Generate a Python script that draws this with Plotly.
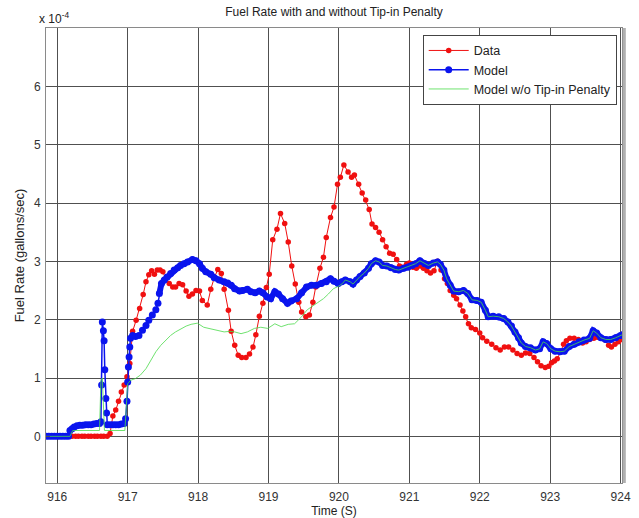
import plotly.graph_objects as go

# ---------------- data (fuel rate in units of 1e-4 gallons/sec) ----------------
data_t = [915.85, 915.90, 915.94, 915.99, 916.03, 916.08, 916.12, 916.17, 916.21, 916.26,
          916.30, 916.35, 916.39, 916.44, 916.48, 916.53, 916.57, 916.62, 916.66, 916.71,
          916.75, 916.79, 916.83, 916.87, 916.91, 916.95, 916.99, 917.03, 917.07, 917.12,
          917.17, 917.22, 917.26, 917.30, 917.34, 917.38, 917.42, 917.46, 917.50, 917.54,
          917.59, 917.64, 917.68, 917.73, 917.78, 917.83, 917.87, 917.92, 917.97, 918.02,
          918.06, 918.13, 918.18, 918.23, 918.28, 918.33, 918.37, 918.43, 918.47, 918.52,
          918.57, 918.62, 918.68, 918.73, 918.78, 918.82, 918.87, 918.92, 918.97, 919.01,
          919.06, 919.12, 919.17, 919.23, 919.28, 919.33, 919.38, 919.43, 919.47, 919.53,
          919.58, 919.63, 919.67, 919.73, 919.78, 919.82, 919.88, 919.93, 919.98, 920.02,
          920.07, 920.13, 920.18, 920.22, 920.28, 920.33, 920.38, 920.43, 920.47, 920.52,
          920.57, 920.62, 920.67, 920.72, 920.77, 920.82, 920.86, 920.91, 920.96, 921.00,
          921.05, 921.10, 921.15, 921.20, 921.25, 921.30, 921.35, 921.40, 921.45, 921.50,
          921.54, 921.58, 921.63, 921.67, 921.72, 921.76, 921.80, 921.84, 921.88, 921.94,
          922.00, 922.04, 922.10, 922.17, 922.23, 922.29, 922.35, 922.41, 922.47, 922.53,
          922.59, 922.65, 922.71, 922.77, 922.82, 922.87, 922.93, 922.98, 923.02, 923.06,
          923.10, 923.15, 923.19, 923.23, 923.28, 923.34, 923.40, 923.46, 923.51, 923.56,
          923.62, 923.67, 923.72, 923.78, 923.83, 923.87, 923.92, 923.97, 924.02]
data_v = [0, 0, 0, 0, 0, 0, 0, 0, 0, 0,
          0, 0, 0, 0, 0, 0, 0, 0, 0, 0,
          0.05, 0.35, 0.45, 0.60, 0.76, 0.88, 1.02, 1.25, 1.80, 1.99,
          2.19, 2.43, 2.65, 2.77, 2.84, 2.78, 2.85, 2.85, 2.82, 2.70,
          2.62, 2.56, 2.56, 2.62, 2.60, 2.49, 2.40, 2.44, 2.50, 2.49,
          2.33, 2.25, 2.52, 2.72, 2.86, 2.79, 2.52, 2.16, 1.80, 1.56,
          1.39, 1.35, 1.35, 1.41, 1.53, 1.74, 2.06, 2.28, 2.55, 2.78,
          3.37, 3.55, 3.82, 3.65, 3.33, 2.92, 2.61, 2.30, 2.13, 2.05,
          2.08, 2.30, 2.56, 2.88, 3.07, 3.41, 3.75, 3.93, 4.32, 4.44,
          4.65, 4.53, 4.44, 4.48, 4.32, 4.17, 4.05, 3.89, 3.64, 3.58,
          3.50, 3.37, 3.25, 3.14, 3.12, 3.03, 2.92, 2.90, 2.95, 2.97,
          2.90, 2.88, 2.92, 2.88, 2.84, 2.80, 2.84, 3.00, 2.85, 2.70,
          2.62, 2.50, 2.42, 2.36, 2.25, 2.15, 2.05, 1.93, 1.86, 1.83,
          1.77, 1.69, 1.63, 1.58, 1.52, 1.48, 1.53, 1.53, 1.48, 1.42,
          1.39, 1.43, 1.42, 1.35, 1.28, 1.21, 1.18, 1.20, 1.26, 1.29,
          1.33, 1.45, 1.58, 1.64, 1.68, 1.68, 1.66, 1.60, 1.62, 1.66,
          1.68, 1.70, 1.69, 1.65, 1.56, 1.53, 1.58, 1.62, 1.66]

model_t = [915.84, 915.88, 915.92, 915.96, 916.00, 916.04, 916.08, 916.12, 916.16, 916.18,
           916.21, 916.24, 916.28, 916.32, 916.36, 916.40, 916.44, 916.48, 916.52, 916.56,
           916.60, 916.62, 916.63, 916.64, 916.655, 916.665, 916.675, 916.69, 916.70, 916.71,
           916.75, 916.79, 916.83, 916.87, 916.91, 916.95, 916.97, 916.99, 917.00, 917.01,
           917.02, 917.03, 917.04, 917.07, 917.11, 917.16, 917.21, 917.26, 917.30, 917.35,
           917.40, 917.43, 917.45, 917.48, 917.52, 917.56, 917.61, 917.66, 917.71, 917.75,
           917.80, 917.85, 917.92, 917.97, 918.02, 918.06, 918.11, 918.18, 918.23, 918.30,
           918.37, 918.42, 918.47, 918.52, 918.59, 918.63, 918.70, 918.75, 918.81, 918.87,
           918.92, 918.98, 919.03, 919.09, 919.14, 919.20, 919.27, 919.32, 919.40, 919.47,
           919.54, 919.61, 919.68, 919.75, 919.82, 919.88, 919.93, 919.99, 920.04, 920.09,
           920.16, 920.20, 920.25, 920.30, 920.36, 920.42, 920.46, 920.52, 920.57, 920.62,
           920.68, 920.74, 920.80, 920.85, 920.92, 920.98, 921.04, 921.09, 921.15, 921.22,
           921.27, 921.34, 921.40, 921.44, 921.49, 921.53, 921.58, 921.63, 921.70, 921.77,
           921.83, 921.89, 921.96, 922.02, 922.08, 922.12, 922.19, 922.27, 922.34, 922.40,
           922.45, 922.50, 922.55, 922.59, 922.65, 922.72, 922.79, 922.85, 922.90, 922.95,
           923.01, 923.07, 923.14, 923.20, 923.27, 923.34, 923.41, 923.48, 923.56, 923.61,
           923.66, 923.72, 923.79, 923.86, 923.93, 924.00, 924.04]
model_v = [0, 0, 0, 0, 0, 0, 0, 0, 0, 0.10,
           0.13, 0.16, 0.18, 0.19, 0.19, 0.20, 0.20, 0.20, 0.21, 0.22,
           0.22, 0.25, 0.88, 1.96, 1.81, 1.64, 1.14, 0.65, 0.40, 0.20,
           0.20, 0.20, 0.20, 0.20, 0.21, 0.22, 0.30, 0.60, 0.93, 1.19,
           1.36, 1.53, 1.68, 1.73, 1.71, 1.73, 1.82, 1.90, 1.99, 2.08,
           2.17, 2.28, 2.45, 2.62, 2.68, 2.73, 2.79, 2.85, 2.89, 2.93,
           2.96, 2.99, 3.03, 3.01, 2.96, 2.88, 2.82, 2.78, 2.72, 2.68,
           2.65, 2.63, 2.59, 2.53, 2.49, 2.50, 2.52, 2.48, 2.46, 2.49,
           2.46, 2.39, 2.36, 2.48, 2.44, 2.36, 2.28, 2.32, 2.36, 2.46,
           2.56, 2.59, 2.59, 2.62, 2.65, 2.70, 2.66, 2.62, 2.65, 2.68,
           2.65, 2.61, 2.68, 2.74, 2.80, 2.88, 2.96, 3.01, 2.99, 2.93,
           2.92, 2.89, 2.86, 2.85, 2.88, 2.90, 2.93, 2.96, 3.01, 2.96,
           2.93, 2.97, 2.99, 2.95, 2.85, 2.70, 2.59, 2.49, 2.48, 2.50,
           2.45, 2.34, 2.33, 2.30, 2.16, 2.05, 2.06, 2.05, 2.02, 1.96,
           1.89, 1.79, 1.69, 1.60, 1.54, 1.52, 1.48, 1.50, 1.62, 1.59,
           1.50, 1.46, 1.45, 1.46, 1.54, 1.58, 1.62, 1.65, 1.68, 1.81,
           1.77, 1.69, 1.66, 1.66, 1.69, 1.73, 1.75]

# model without tip-in penalty, read up to 920.05 s; afterwards it lies on the model curve
notip_t = [915.84, 916.18, 916.22, 916.60, 916.62, 916.64, 916.67, 916.96, 917.00, 917.04,
           917.11, 917.18, 917.26, 917.33, 917.40, 917.47, 917.54, 917.61, 917.68, 917.75,
           917.83, 917.90, 917.99, 918.08, 918.15, 918.23, 918.30, 918.37, 918.45, 918.52,
           918.61, 918.70, 918.80, 918.89, 918.99, 919.09, 919.18, 919.28, 919.37, 919.47,
           919.55, 919.66, 919.78, 919.85, 919.92, 919.99, 920.05]
notip_v = [0, 0, 0.10, 0.10, 0.95, 1.00, 0.10, 0.10, 0.90, 0.96,
           0.99, 1.05, 1.16, 1.30, 1.45, 1.56, 1.65, 1.73, 1.79, 1.84,
           1.89, 1.92, 1.94, 1.87, 1.85, 1.83, 1.80, 1.79, 1.80, 1.79,
           1.76, 1.79, 1.85, 1.87, 1.85, 1.93, 1.88, 1.92, 1.93, 2.05,
           2.17, 2.26, 2.36, 2.44, 2.53, 2.57, 2.62]
split = next(i for i, t in enumerate(model_t) if t > notip_t[-1])
notip_t = notip_t + model_t[split:]
notip_v = notip_v + model_v[split:]

# where the model markers merge into a solid band
dense_start = next(i for i, t in enumerate(model_t) if t >= 917.45)

x_ticks = [916, 917, 918, 919, 920, 921, 922, 923, 924]
y_ticks = [0, 1, 2, 3, 4, 5, 6]

FONT = "Liberation Sans, Arial, sans-serif"
RED = "#f01010"
BLUE = "#0a14ee"
GREEN = "#4cdc4c"

fig = go.Figure()
fig.add_trace(go.Scatter(x=data_t, y=data_v, name="Data", mode="lines+markers",
                         line=dict(color=RED, width=1),
                         marker=dict(color=RED, size=5.5)))
fig.add_trace(go.Scatter(x=model_t[dense_start:], y=model_v[dense_start:], mode="lines",
                         showlegend=False, hoverinfo="skip",
                         line=dict(color=BLUE, width=6)))
fig.add_trace(go.Scatter(x=model_t, y=model_v, name="Model", mode="lines+markers",
                         line=dict(color=BLUE, width=1.5),
                         marker=dict(color=BLUE, size=7)))
fig.add_trace(go.Scatter(x=notip_t, y=notip_v, name="Model w/o Tip-in Penalty", mode="lines",
                         opacity=0.8, line=dict(color=GREEN, width=1)))

axis_common = dict(showline=True, mirror="ticks", linecolor="#8a8a8a", linewidth=1,
                   showgrid=True, gridcolor="#505050", gridwidth=1, zeroline=False,
                   ticks="inside", ticklen=4, tickcolor="#505050", automargin=False,
                   tickfont=dict(family=FONT, size=12, color="#333"))

fig.update_layout(
    width=639, height=518,
    margin=dict(l=46, r=17, t=28, b=35),
    paper_bgcolor="white", plot_bgcolor="white",
    title=dict(text="Fuel Rate with and without Tip-in Penalty", x=0.5, xref="paper",
               y=1 - 12 / 518, yref="container", yanchor="middle",
               font=dict(family=FONT, size=12, color="#222")),
    xaxis=dict(range=[915.84, 924.02], tickvals=x_ticks, ticklabelstandoff=3,
               title=dict(text="Time (S)", standoff=4, font=dict(family=FONT, size=12, color="#222")),
               **axis_common),
    yaxis=dict(range=[-0.8, 7.0], tickvals=y_ticks, ticklabelstandoff=2,
               title=dict(text="Fuel Rate (gallons/sec)", standoff=6,
                          font=dict(family=FONT, size=13, color="#222")),
               **axis_common),
    legend=dict(x=0.654, y=0.985, xanchor="left", yanchor="top",
                bgcolor="white", bordercolor="#444", borderwidth=1,
                font=dict(family=FONT, size=12.5, color="#222"),
                itemwidth=40, tracegroupgap=0),
    showlegend=True,
)

fig.add_annotation(text="x 10<sup>-4</sup>", xref="paper", yref="paper", x=-0.016, y=1.0,
                   xanchor="left", yanchor="bottom", showarrow=False,
                   font=dict(family=FONT, size=12, color="#222"))
fig.add_shape(type="line", xref="paper", yref="paper", x0=1.004, x1=1.004, y0=0, y1=1,
              line=dict(color="#b0b0b0", width=3))

fig.write_html("out.html")
